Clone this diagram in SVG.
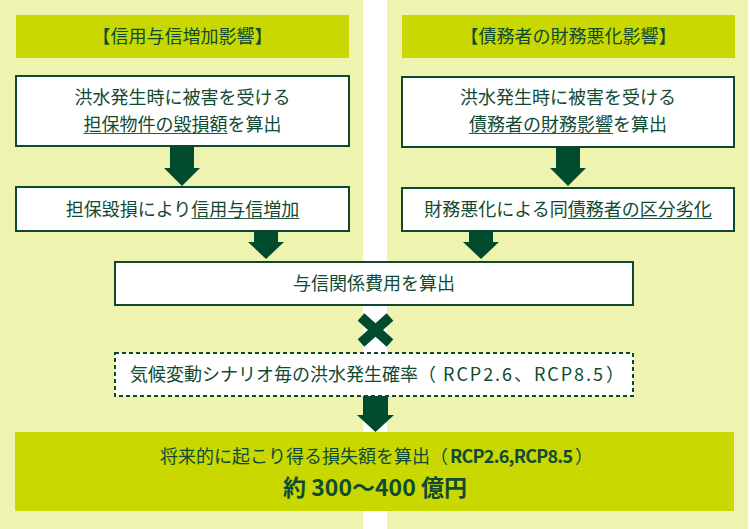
<svg xmlns="http://www.w3.org/2000/svg" width="750" height="529" viewBox="0 0 750 529">
<style>
text{font-family:"Noto Sans CJK JP","Noto Sans",sans-serif;font-size:18px;font-weight:400;fill:#114a33}
.c{text-anchor:middle}
.panel{fill:#eef4b0}
.hdr{fill:#c8d800}
.box{fill:#fff;stroke:#0b4a30;stroke-width:2}
.dash{fill:#fff;stroke:#0b4a30;stroke-width:2;stroke-dasharray:4 3}
.ul{stroke:#2d5a45;stroke-width:1.2}
.arr{fill:#004a2d}
.b{font-weight:bold}
</style>
<rect width="750" height="529" fill="#fff"/>
<g id="panel-left"><rect class="panel" x="0" y="0" width="363" height="529"/></g>
<g id="panel-right"><rect class="panel" x="387" y="0" width="361" height="529"/></g>
<g id="header-left"><rect class="hdr" x="16" y="15" width="333" height="43"/><text class="c" x="182.5" y="43">【信用与信増加影響】</text></g>
<g id="header-right"><rect class="hdr" x="402" y="15" width="333" height="43"/><text class="c" x="568.5" y="43">【債務者の財務悪化影響】</text></g>
<g id="box-l1"><rect class="box" x="16" y="76" width="333" height="70"/><text class="c" x="182.5" y="104">洪水発生時に被害を受ける</text><text class="c" x="182.5" y="131">担保物件の毀損額を算出</text><line class="ul" x1="83.5" y1="133.5" x2="227.5" y2="133.5"/></g>
<g id="box-r1"><rect class="box" x="402" y="77" width="332" height="70"/><text class="c" x="568" y="104">洪水発生時に被害を受ける</text><text class="c" x="568" y="131">債務者の財務影響を算出</text><line class="ul" x1="469" y1="133.5" x2="613" y2="133.5"/></g>
<g id="box-l2"><rect class="box" x="16" y="187" width="333" height="44"/><text class="c" x="182.5" y="216">担保毀損により信用与信増加</text><line class="ul" x1="191.5" y1="218.5" x2="299.5" y2="218.5"/></g>
<g id="box-r2"><rect class="box" x="402" y="188" width="332" height="43"/><text class="c" x="568" y="216">財務悪化による同債務者の区分劣化</text><line class="ul" x1="568" y1="218.5" x2="712" y2="218.5"/></g>
<g id="box-cost"><rect class="box" x="115" y="262" width="518" height="43"/><text class="c" x="374" y="290">与信関係費用を算出</text></g>
<g id="box-prob"><rect class="dash" x="115" y="353" width="518" height="43"/><text x="130" y="381">気候変動シナリオ毎の洪水発生確率（<tspan x="443" textLength="160" lengthAdjust="spacing">RCP2.6、RCP8.5</tspan><tspan x="606">）</tspan></text></g>
<g id="box-result"><rect class="hdr" x="15" y="432" width="719" height="79"/><text x="160" y="463">将来的に起こり得る損失額を算出（<tspan class="b" x="450" textLength="123" lengthAdjust="spacing">RCP2.6,RCP8.5</tspan><tspan x="575">）</tspan></text><text class="b" x="283" y="496" style="font-size:23px" textLength="184" lengthAdjust="spacing">約 300～400 億円</text></g>
<g id="connectors">
<polygon class="arr" points="170,146 194,146 194,168 200,168 182,186 164,168 170,168"/>
<polygon class="arr" points="556,147 580,147 580,168 586,168 568,186 550,168 556,168"/>
<polygon class="arr" points="254,231 278,231 278,242 284,242 266,259 248,242 254,242"/>
<polygon class="arr" points="469,231 493,231 493,242 499,242 481,259 463,242 469,242"/>
<g stroke="#004a2d" stroke-width="10"><line x1="361" y1="317" x2="390" y2="343"/><line x1="390" y1="317" x2="361" y2="343"/></g>
<polygon class="arr" points="363,396 388,396 388,415 394,415 375.5,432 357,415 363,415"/>
</g>
</svg>
